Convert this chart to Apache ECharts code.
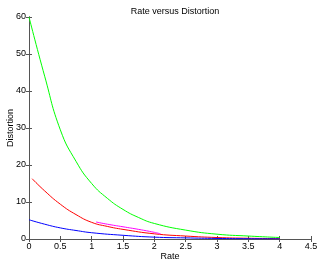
<!DOCTYPE html>
<html><head><meta charset="utf-8">
<script src="https://cdn.jsdelivr.net/npm/echarts@6/dist/echarts.min.js"></script>
<style>html,body{margin:0;padding:0;background:#fff}#c{width:332px;height:264px}</style>
</head><body><div id="c"></div>
<script>
var title = "Rate versus Distortion";
var xName = "Rate", yName = "Distortion";
var greenData = [[0,60],[0.25,44],[0.5,29.5],[0.75,21],[1,15],[1.25,11],[1.5,8],[1.75,5.8],[2,4.2],[2.5,2.4],[3,1.3],[3.5,0.8],[4,0.4]];
var redData = [[0.05,16.3],[0.25,13],[0.5,9.4],[0.75,6.6],[1,4.5],[1.25,3.4],[1.5,2.6],[2,1.4],[2.5,0.8],[3,0.4],[3.5,0.2],[4,0.1]];
var blueData = [[0,5.2],[0.25,4.0],[0.5,3.0],[0.75,2.3],[1,1.7],[1.5,1.0],[2,0.5],[2.5,0.3],[3,0.15],[3.5,0.08],[4,0.04]];
var magentaData = [[1.07,4.6],[1.25,4.0],[1.5,3.3],[1.75,2.6],[2,1.8],[2.1,1.4]];
var font = 'Liberation Sans, Arial, sans-serif';
var chart = echarts.init(document.getElementById('c'));
function ln(d,c){return {type:'line',data:d,showSymbol:false,smooth:true,lineStyle:{color:c,width:1},itemStyle:{color:c},animation:false};}
var tickStyle = {show:true,inside:true,length:3,lineStyle:{color:'#555'}};
chart.setOption({
  animation:false,
  title:{text:title,left:170,top:2,textAlign:'center',textStyle:{fontFamily:font,fontSize:9,fontWeight:'normal',color:'#000'}},
  grid:{left:29,right:21,top:17,bottom:25,containLabel:false,outerBoundsMode:'none'},
  xAxis:[{type:'value',min:0,max:4.5,interval:0.5,name:xName,nameLocation:'middle',nameGap:13,nameMoveOverlap:false,
    nameTextStyle:{fontFamily:font,fontSize:9,color:'#000'},
    axisLine:{onZero:false,lineStyle:{color:'#555'}},axisTick:tickStyle,
    axisLabel:{fontFamily:font,fontSize:9,color:'#000',margin:3},splitLine:{show:false}},
    {type:'value',position:'top',min:0,max:4.5,interval:0.5,axisLine:{lineStyle:{color:'#555'}},axisTick:tickStyle,axisLabel:{show:false},splitLine:{show:false}}],
  yAxis:[{type:'value',min:0,max:60,interval:10,name:yName,nameLocation:'middle',nameGap:14,nameMoveOverlap:false,
    nameTextStyle:{fontFamily:font,fontSize:9,color:'#000'},
    axisLine:{onZero:false,lineStyle:{color:'#222'}},axisTick:tickStyle,
    axisLabel:{fontFamily:font,fontSize:9,color:'#000',margin:3},splitLine:{show:false}},
    {type:'value',position:'right',min:0,max:60,interval:10,axisLine:{show:true,lineStyle:{color:'#555'}},axisTick:tickStyle,axisLabel:{show:false},splitLine:{show:false}}],
  series:[ln(greenData,'#00ff00'),ln(redData,'#ff0000'),ln(magentaData,'#ff00ff'),ln(blueData,'#0000ff')]
});
</script></body></html>
